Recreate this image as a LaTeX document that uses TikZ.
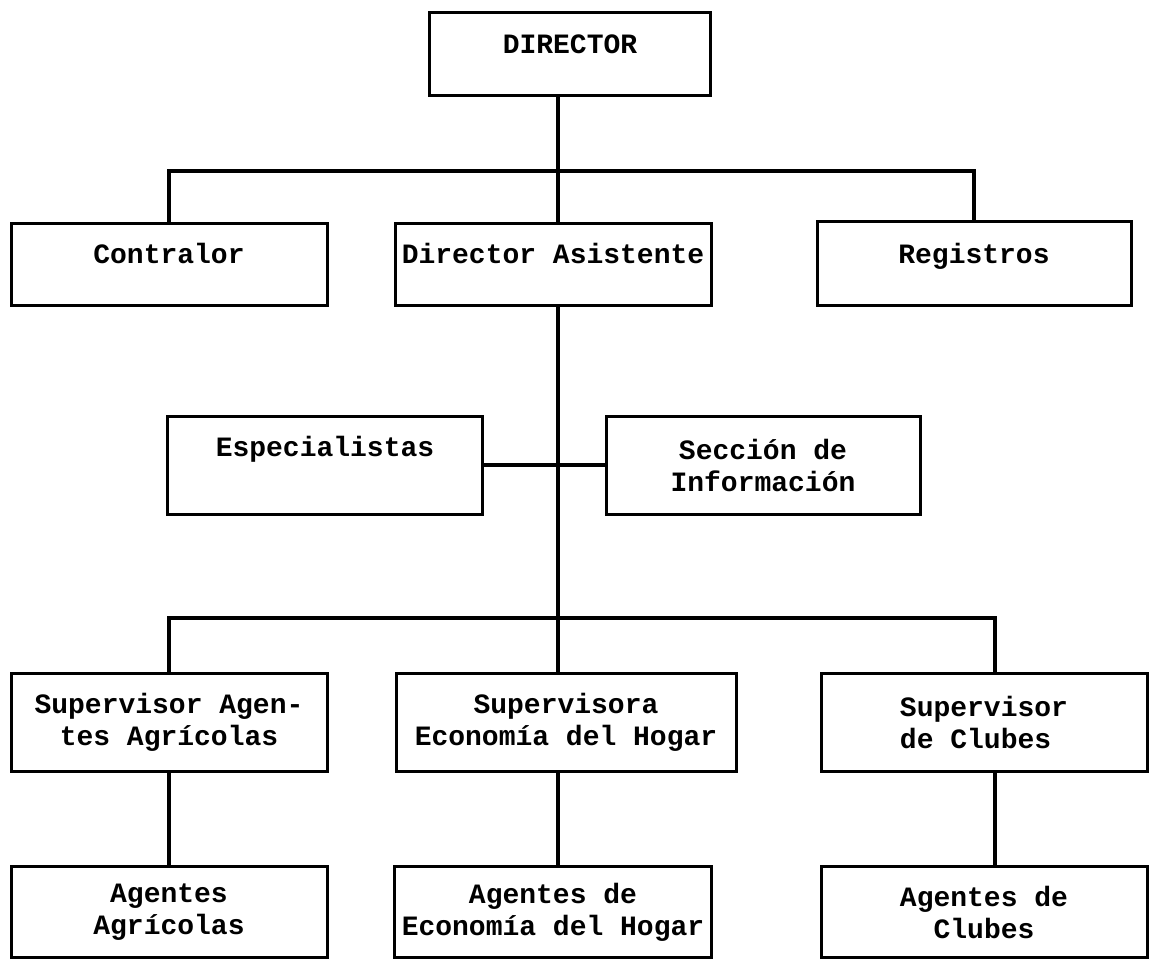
\documentclass[tikz,border=0pt]{standalone}
\usepackage{fontspec}
\setmonofont{Liberation Mono}
\begin{document}
\begin{tikzpicture}[x=1pt, y=-1pt,
    caja/.style={draw, line width=3pt, inner sep=0pt, align=center,
                 font=\ttfamily\bfseries\fontsize{28}{32}\selectfont},
    arriba/.style={text depth=#1},
    linea/.style={line width=3.5pt}]
    \useasboundingbox (0,0) rectangle (1151,962);

    % Paso 1: columnas y barras
    \coordinate (colM) at (558,0);
    \coordinate (colR) at (995,0);
    \coordinate (barraA) at (0,171);
    \coordinate (barraB) at (0,618);

    % Paso 2: nivel superior
    \node[caja, arriba=20pt, minimum width=281, minimum height=83] (director) at (570,54) {DIRECTOR};
    \node[caja, arriba=22pt, minimum width=316, minimum height=82] (contralor) at (169,264) {Contralor};
    \node[caja, arriba=22pt, minimum width=316, minimum height=82] (asistente) at (553,264) {Director Asistente};
    \node[caja, arriba=20pt, minimum width=314, minimum height=84] (registros) at (974,263) {Registros};

    % Paso 3: staff
    \node[caja, arriba=38pt, minimum width=315, minimum height=98] (especialistas) at (325,465) {Especialistas};
    \node[caja, minimum width=314, minimum height=98] (seccion) at (763,465) {Sección de\\Información};

    % Paso 4: supervisores
    \node[caja, minimum width=316, minimum height=98] (supAgr) at (169,722) {Supervisor Agen-\\tes Agrícolas};
    \node[caja, minimum width=340, minimum height=98] (supEco) at (566,722) {Supervisora\\Economía del Hogar};
    \node[caja, minimum width=326, minimum height=98, align=left] (supClub) at (984,722) {Supervisor\\de Clubes};

    % Paso 5: agentes
    \node[caja, minimum width=316, minimum height=91] (agAgr) at (169,912) {Agentes\\Agrícolas};
    \node[caja, minimum width=317, minimum height=91] (agEco) at (553,912) {Agentes de\\Economía del Hogar};
    \node[caja, minimum width=326, minimum height=91] (agClub) at (984,912) {Agentes de\\Clubes};

    % lineas del director
    \draw[linea] (director.south -| colM) -- (asistente.north -| colM);
    \draw[linea] (contralor.north) -- (contralor.north |- barraA) -- (registros.north |- barraA) -- (registros.north);

    % linea central
    \draw[linea] (asistente.south -| colM) -- (supEco.north -| colM);
    \draw[linea] (especialistas.east) -- (seccion.west);
    \draw[linea] (supAgr.north) -- (supAgr.north |- barraB) -- (colR |- barraB) -- (supClub.north -| colR);

    % supervisor -> agentes
    \draw[linea] (supAgr.south) -- (agAgr.north);
    \draw[linea] (supEco.south -| colM) -- (agEco.north -| colM);
    \draw[linea] (supClub.south -| colR) -- (agClub.north -| colR);

\end{tikzpicture}
\end{document}
